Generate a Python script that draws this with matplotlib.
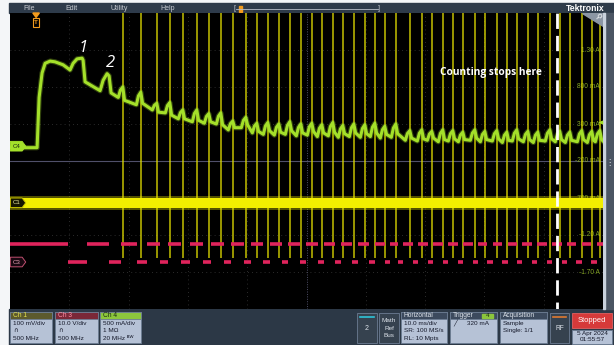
import matplotlib
matplotlib.use("Agg")
import matplotlib.pyplot as plt
import numpy as np
from matplotlib.patches import Rectangle, Polygon
from matplotlib.transforms import blended_transform_factory

plt.rcParams["font.family"] = ["Liberation Sans", "DejaVu Sans"]

# horizontal: 10 ms/div over 10 divisions, trigger 4.4 ms in from the left
T_MIN, T_MAX = -4.4, 95.6

# Ch1, 100 mV/div: noisy baseline with a spike at every pulse (ms)
ch1_spikes = [14.67, 17.71, 20.40, 22.60, 24.79, 27.15, 29.17, 31.20, 33.22,
              35.41, 37.27, 39.12, 40.98, 42.83, 44.69, 46.54, 48.23, 50.08,
              51.77, 53.63, 55.48, 57.17, 58.85, 60.71, 63.07, 65.09, 66.78,
              68.63, 70.32, 72.01, 74.03, 75.72, 77.74, 79.43, 81.11, 82.97,
              84.65, 86.68, 88.36, 90.05, 92.07, 93.76, 95.11]
ch1_offset_div = -1.13
ch1_noise_mv = 14
ch1_spike_hi_mv = 600
ch1_spike_lo_mv = -150

# Ch3, 10 V/div: logic line, toggle times (ms), starts high
ch3_edges = [5.40, 8.60, 12.31, 14.33, 17.03, 18.72, 20.91, 22.26, 24.45, 25.97,
             28.16, 29.51, 31.70, 32.88, 35.08, 36.26, 38.28, 39.46, 41.48,
             42.50, 44.52, 45.53, 47.55, 48.57, 50.42, 51.43, 53.29, 54.30,
             56.16, 57.17, 58.77, 59.70, 61.11, 61.89, 63.58, 64.42, 66.10,
             66.95, 68.63, 69.48, 71.16, 72.01, 73.69, 74.54, 76.05, 77.07,
             78.58, 79.60, 81.11, 81.96, 83.64, 84.49, 86.17, 87.02, 88.70,
             89.54, 91.06, 92.07, 93.59, 94.60]
ch3_high_v = 5.0
ch3_offset_div = -2.73

# Ch4, 500 mA/div, -200 mA at centre: motor current
ch4_scale = 0.5
ch4_center = -0.2
ch4_head_t = [-4.4, 0.0, 0.17, 0.51, 1.01, 1.52, 2.36, 3.20, 4.55, 5.73, 6.24,
              6.91, 7.76, 7.93, 8.26, 10.79, 11.30, 11.97, 12.31, 12.65, 13.83]
ch4_head_a = [-0.02, -0.02, -0.02, 0.66, 0.99, 1.12, 1.15, 1.14, 1.10, 1.03,
              1.12, 1.18, 1.19, 1.16, 0.87, 0.75, 0.89, 0.98, 0.95, 0.72, 0.66]
# per pulse: level before the ramp, peak, level right after the drop (A)
ch4_valley = [0.66, 0.56, 0.49, 0.45, 0.37, 0.33, 0.31, 0.30, 0.22, 0.25,
              0.18, 0.16, 0.15, 0.16, 0.14, 0.15, 0.13, 0.14, 0.12, 0.13,
              0.12, 0.13, 0.11, 0.12, 0.08, 0.07, 0.08, 0.06, 0.07, 0.06,
              0.08, 0.06, 0.07, 0.05, 0.07, 0.06, 0.05, 0.07, 0.06, 0.05,
              0.06, 0.05, 0.06]
ch4_peak = [0.80, 0.73, 0.58, 0.59, 0.49, 0.49, 0.44, 0.45, 0.34, 0.39,
            0.31, 0.32, 0.30, 0.33, 0.30, 0.31, 0.29, 0.32, 0.28, 0.30,
            0.29, 0.31, 0.27, 0.30, 0.21, 0.22, 0.20, 0.22, 0.21, 0.19,
            0.22, 0.20, 0.21, 0.19, 0.22, 0.20, 0.19, 0.22, 0.20, 0.19,
            0.21, 0.20, 0.21]
ch4_drop = [0.62, 0.58, 0.46, 0.42, 0.37, 0.35, 0.33, 0.29, 0.25, 0.29,
            0.20, 0.21, 0.19, 0.21, 0.18, 0.20, 0.18, 0.19, 0.17, 0.18,
            0.17, 0.18, 0.16, 0.17, 0.11, 0.10, 0.11, 0.09, 0.10, 0.09,
            0.11, 0.09, 0.10, 0.08, 0.10, 0.09, 0.08, 0.10, 0.09, 0.08,
            0.09, 0.08, 0.09]
ch4_trigger_a = 0.32
ch4_scale_labels = ["1.30 A", "800 mA", "300 mA", "-200 mA", "-700 mA",
                    "-1.20 A", "-1.70 A"]
ch4_label_div = [3, 2, 1, 0, -1, -2, -3]

count_stop_t = 87.86
count_marks = ["1", "2"]
count_marks_t = [7.9, 12.5]
count_marks_a = [1.33, 1.12]

YELLOW = "#f2ee00"
RED = "#e0245c"
GREEN = "#a4e02a"
ORANGE = "#f29b1d"
PANEL = "#2c3846"
BODY = "#b6c2d6"
SYM = ["DejaVu Sans", "Liberation Sans"]


def a_to_div(a):
    return (np.asarray(a) - ch4_center) / ch4_scale


fig = plt.figure(figsize=(6.14, 3.45), dpi=100)
fig.patch.set_facecolor("#f4f6f8")

# chrome layer in pixel coordinates
bg = fig.add_axes([0, 0, 1, 1])
bg.set_xlim(0, 614)
bg.set_ylim(345, 0)
bg.axis("off")
bg.add_patch(Rectangle((9, 3), 605, 10, color="#2e3b4a"))
bg.add_patch(Rectangle((9, 309), 605, 36, color=PANEL))
bg.add_patch(Rectangle((603, 13), 11, 296, color="#4b5563"))
bg.add_patch(Rectangle((603, 13), 2, 296, color="#c9d1dc"))
bg.text(609, 163, "⋮", color="#e8ecf0", fontsize=6, ha="center", va="center",
        family=SYM)

for label, x in zip(["File", "Edit", "Utility", "Help"], [29, 72, 119, 168]):
    bg.text(x, 8.5, label, color="#c8ccd2", fontsize=5, ha="center", va="center")
bg.plot([236, 378], [8.5, 8.5], color="#b8bec8", lw=0.6)
bg.text(235, 8.5, "[", color="#c8ccd2", fontsize=5, ha="center", va="center")
bg.text(379, 8.5, "]", color="#c8ccd2", fontsize=5, ha="center", va="center")
bg.add_patch(Rectangle((238.5, 5.5), 3.5, 6, color=ORANGE))
bg.text(605, 8.5, "Tektronix", color="white", fontsize=6.2, fontweight="bold",
        ha="right", va="center")


def badge(x, w, header, head_fc, head_tc, lines):
    bg.add_patch(Rectangle((x, 312), w, 31, fc=BODY, ec="#6c7c92", lw=0.6))
    bg.add_patch(Rectangle((x, 312), w, 7, fc=head_fc, ec="#6c7c92", lw=0.6))
    bg.text(x + 3, 315.6, header, color=head_tc, fontsize=4.8, va="center")
    for i, s in enumerate(lines):
        bg.text(x + 3, 323.5 + i * 7.3, s, color="#15192a", fontsize=4.6,
                va="center", family=SYM if i == 1 and len(s) == 1 else None)


badge(10, 42, "Ch 1", "#5c5a2e", "#e6e24a", ["100 mV/div", "∩", "500 MHz"])
badge(55, 43, "Ch 3", "#7a2838", "#ff8fa6", ["10.0 V/div", "∩", "500 MHz"])
badge(100, 41, "Ch 4", "#8cc63c", "#1a2a10", ["500 mA/div", "1 MΩ", "20 MHz ᴮᵂ"])
badge(401, 46, "Horizontal", "#3c4a5e", "#dde3ea",
      ["10.0 ms/div", "SR: 100 MS/s", "RL: 10 Mpts"])
badge(450, 47, "Trigger", "#3c4a5e", "#dde3ea", ["", ""])
bg.text(453, 323.5, "╱", color="#15192a", fontsize=4.6, va="center", family=SYM)
bg.text(467, 323.5, "320 mA", color="#15192a", fontsize=4.6, va="center")
bg.add_patch(Rectangle((482, 313.5), 11, 4.5, color="#8cc63c"))
bg.text(487.5, 315.8, "4", color="#1a2a10", fontsize=4.4, ha="center", va="center")
badge(500, 47, "Acquisition", "#3c4a5e", "#dde3ea", ["Sample", "Single: 1/1"])

for x, w in [(357, 20), (379, 20), (550, 19)]:
    bg.add_patch(Rectangle((x, 313), w, 30, fc="#36424f", ec="#6c7c92", lw=0.6))
bg.plot([360, 374], [316.5, 316.5], color="#2ec4d8", lw=1.2)
bg.text(367, 329, "2", color="#dde3ea", fontsize=5, ha="center", va="center")
for i, s in enumerate(["Math", "Ref", "Bus"]):
    bg.text(389, 320.5 + i * 7.5, s, color="#dde3ea", fontsize=4.6,
            ha="center", va="center")
bg.plot([553, 566], [316.5, 316.5], color="#e07a30", lw=1.2)
bg.text(559.5, 329, "RF", color="#dde3ea", fontsize=4.8, ha="center", va="center")
bg.add_patch(Rectangle((572, 313), 40, 15, fc="#d63a3a", ec="#e06060", lw=0.6))
bg.text(592, 320.5, "Stopped", color="white", fontsize=5.4, ha="center",
        va="center")
bg.add_patch(Rectangle((572, 329.5), 40, 14, fc=BODY, ec="#6c7c92", lw=0.6))
bg.text(592, 333.5, "5 Apr 2024", color="#15192a", fontsize=4.6, ha="center",
        va="center")
bg.text(592, 339.8, "01:55:57", color="#15192a", fontsize=4.6, ha="center",
        va="center")

# waveform screen
ax = fig.add_axes([10 / 614, 36 / 345, 593 / 614, 296 / 345])
ax.set_facecolor("black")
ax.set_xlim(T_MIN, T_MAX)
ax.set_ylim(-4, 4)
ax.set_xticks([])
ax.set_yticks([])
for s in ax.spines.values():
    s.set_visible(False)

for k in range(1, 10):
    x = T_MIN + 10 * k
    if k == 5:
        ax.axvline(x, color="#50506a", lw=0.7, ls=(0, (1, 1.5)), zorder=0)
    else:
        ax.axvline(x, color="#3a3a3a", lw=0.6, ls=(0, (1, 4)), zorder=0)
for k in range(-3, 4):
    if k == 0:
        ax.axhline(k, color="#50506a", lw=0.8, zorder=0)
    else:
        ax.axhline(k, color="#3a3a3a", lw=0.6, ls=(0, (1, 4)), zorder=0)

# Ch4 scale labels on the right
tr_r = blended_transform_factory(ax.transAxes, ax.transData)
for s, d in zip(ch4_scale_labels, ch4_label_div):
    ax.text(0.995, d, s, transform=tr_r, color="#86a626", fontsize=4.8,
            ha="right", va="center", zorder=1)

# Ch1 spikes and noisy baseline
ch1_div = ch1_offset_div
ax.vlines(ch1_spikes, ch1_div + ch1_spike_lo_mv / 100, ch1_div + ch1_spike_hi_mv / 100,
          color="#e6e200", lw=1.1, alpha=0.85, zorder=2)
band = ch1_noise_mv / 100
ax.fill_between([T_MIN, T_MAX], ch1_div - band * 1.3, ch1_div + band * 1.3,
                color=YELLOW, alpha=0.35, lw=0, zorder=3)
ax.fill_between([T_MIN, T_MAX], ch1_div - band, ch1_div + band,
                color=YELLOW, lw=0, zorder=3)

# Ch3 logic line: only the flat levels show
edges = [T_MIN] + ch3_edges + [T_MAX]
for i in range(len(edges) - 1):
    lvl = ch3_high_v if i % 2 == 0 else 0.0
    ax.hlines(ch3_offset_div + lvl / 10, edges[i], edges[i + 1], color=RED,
              lw=2.6, zorder=3)

# Ch4 current trace
t = list(ch4_head_t)
a = list(ch4_head_a)
for ts, v, p, d in zip(ch1_spikes, ch4_valley, ch4_peak, ch4_drop):
    t += [ts - 0.8, ts - 0.45, ts - 0.05, ts + 0.25]
    a += [v, v + 0.7 * (p - v), p, d]
t.append(T_MAX)
a.append(ch4_drop[-1] - 0.02)
ax.plot(t, a_to_div(a), color=GREEN, lw=3.8, alpha=0.3, zorder=4)
ax.plot(t, a_to_div(a), color=GREEN, lw=2.2, zorder=4)

# trigger level arrow
ax.annotate("", xy=(T_MAX - 1.2, a_to_div(ch4_trigger_a)),
            xytext=(T_MAX, a_to_div(ch4_trigger_a)),
            arrowprops=dict(arrowstyle="-|>", color=GREEN, lw=0.8,
                            mutation_scale=5), zorder=6)

# channel ground markers
def gnd_marker(y, fc, ec, tc, label):
    w, tip, h = 2.0, 0.6, 0.13
    x0 = T_MIN + 0.05
    ax.add_patch(Polygon([(x0, y - h), (x0 + w, y - h), (x0 + w + tip, y),
                          (x0 + w, y + h), (x0, y + h)], closed=True,
                         fc=fc, ec=ec, lw=0.7, zorder=7))
    ax.text(x0 + 0.35, y, label, color=tc, fontsize=4.4, va="center", zorder=8)


gnd_marker(a_to_div(0.0), GREEN, GREEN, "#1a2a10", "C4")
gnd_marker(ch1_div, "#151500", "#c8c400", "#e8e6a0", "C1")
gnd_marker(ch3_offset_div, "#180810", "#c05070", "#e8a0b4", "C3")

# trigger position marker
tr_t = blended_transform_factory(ax.transData, ax.transAxes)
ax.add_patch(Polygon([(-0.55, 1.0), (0.55, 1.0), (0, 0.985)], closed=True,
                     transform=tr_t, color=ORANGE, zorder=8, clip_on=False))
ax.add_patch(Rectangle((-0.45, 0.952), 0.9, 0.03, transform=tr_t, fc="none",
                       ec=ORANGE, lw=0.8, zorder=8))
ax.text(0, 0.967, "T", transform=tr_t, color=ORANGE, fontsize=4.5,
        ha="center", va="center", fontweight="bold", zorder=8)

# zoom corner
tr_a = ax.transAxes
ax.add_patch(Polygon([(0.964, 1.0), (1.0, 1.0), (1.0, 0.955)], closed=True,
                     transform=tr_a, color="#8c96a4", zorder=8))
ax.text(0.991, 0.989, "⚲", transform=tr_a, color="white", fontsize=5.5,
        ha="center", va="center", rotation=-45, zorder=9, family=SYM)

# annotations
ax.axvline(count_stop_t, color="white", lw=2.0, ls=(3, (5.5, 2.5)), zorder=9)
ax.text(76.7, 2.38, "Counting stops here", color="white", fontsize=7.3,
        fontweight="bold", family=["Open Sans", "DejaVu Sans"],
        ha="center", va="center", zorder=9)
for s, tt, aa in zip(count_marks, count_marks_t, count_marks_a):
    ax.text(tt, a_to_div(aa), s, color="white", fontsize=12, style="italic",
            family=["Open Sans", "DejaVu Sans"], ha="center", va="center",
            zorder=9)

fig.savefig("out.png", dpi=100, facecolor=fig.get_facecolor())
